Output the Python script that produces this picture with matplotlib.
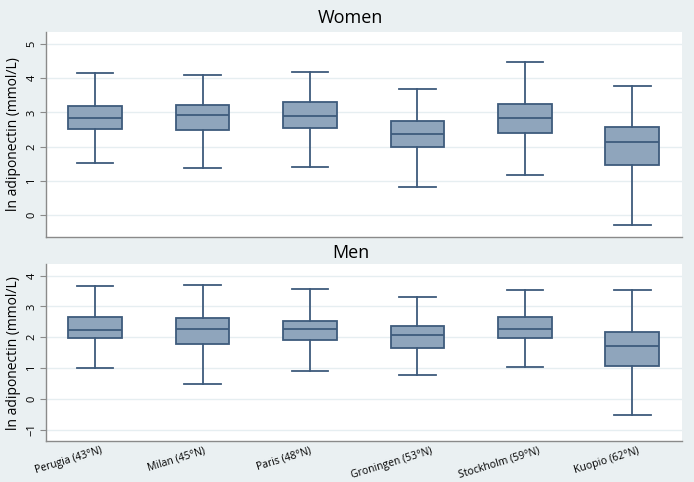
"""
Adiponectin by latitude: box plots for women and men
"""

import matplotlib
matplotlib.use('Agg')
import matplotlib.pyplot as plt
import matplotlib.transforms as mtransforms

plt.rcParams['font.family'] = ['Open Sans', 'DejaVu Sans']

cities = ['Perugia (43°N)', 'Milan (45°N)', 'Paris (48°N)',
          'Groningen (53°N)', 'Stockholm (59°N)', 'Kuopio (62°N)']

# women: lower whisker, Q1, median, Q3, upper whisker
women_low = [1.52, 1.37, 1.40, 0.82, 1.17, -0.29]
women_q1 = [2.53, 2.48, 2.55, 1.99, 2.41, 1.45]
women_med = [2.85, 2.92, 2.89, 2.37, 2.84, 2.13]
women_q3 = [3.18, 3.21, 3.30, 2.74, 3.24, 2.58]
women_high = [4.16, 4.08, 4.17, 3.69, 4.47, 3.77]

# men
men_low = [0.99, 0.49, 0.92, 0.76, 1.04, -0.52]
men_q1 = [1.98, 1.78, 1.90, 1.65, 1.98, 1.08]
men_med = [2.25, 2.26, 2.26, 2.06, 2.28, 1.73]
men_q3 = [2.67, 2.63, 2.54, 2.36, 2.67, 2.18]
men_high = [3.68, 3.70, 3.58, 3.30, 3.52, 3.55]

BG = '#eaf0f2'
BOX_FILL = '#8fa5bc'
BOX_EDGE = '#3e5b7c'
GRID = '#e6eef1'
AXIS = '#8a8a8a'


def make_stats(low, q1, med, q3, high):
    return [{'whislo': a, 'q1': b, 'med': c, 'q3': d, 'whishi': e, 'fliers': []}
            for a, b, c, d, e in zip(low, q1, med, q3, high)]


def draw_panel(ax, stats, yticks, ylim, show_labels):
    positions = list(range(1, len(stats) + 1))
    line = dict(color=BOX_EDGE, linewidth=1.3)
    ax.bxp(stats, positions=positions, widths=0.5, capwidths=0.34,
           patch_artist=True, showfliers=False,
           boxprops=dict(facecolor=BOX_FILL, edgecolor=BOX_EDGE, linewidth=1.3),
           medianprops=line, whiskerprops=line, capprops=line)
    ax.set_xlim(0.54, 6.46)
    ax.set_ylim(*ylim)
    ax.set_yticks(yticks)
    ax.set_yticklabels([str(t).replace('-', '\u2212') for t in yticks],
                       rotation=90, va='center', fontsize=8)
    ax.grid(axis='y', color=GRID, linewidth=1.0)
    ax.set_axisbelow(True)
    for side in ['top', 'right']:
        ax.spines[side].set_visible(False)
    for side in ['left', 'bottom']:
        ax.spines[side].set_color(AXIS)
        ax.spines[side].set_linewidth(1.0)
    ax.tick_params(axis='y', color=AXIS, length=4, width=0.8, pad=2)
    ax.tick_params(axis='x', length=0, pad=3)
    ax.set_ylabel('ln adiponectin (mmol/L)', fontsize=10, labelpad=4)
    if show_labels:
        ax.set_xticks(positions)
        labels = ax.set_xticklabels(cities, rotation=17, ha='center', va='top',
                                    fontsize=7.5)
        shift = mtransforms.ScaledTranslation(-26 / 100, 0, ax.figure.dpi_scale_trans)
        for lab in labels:
            lab.set_transform(lab.get_transform() + shift)
    else:
        ax.set_xticks([])


fig = plt.figure(figsize=(6.94, 4.82), dpi=100, facecolor=BG)

ax_w = fig.add_axes([0.0659, 0.5083, 0.9164, 0.4253])
draw_panel(ax_w, make_stats(women_low, women_q1, women_med, women_q3, women_high),
           [0, 1, 2, 3, 4, 5], (-0.64, 5.35), False)
fig.text(0.505, 0.963, 'Women', ha='center', va='center', fontsize=13)

ax_m = fig.add_axes([0.0659, 0.0844, 0.9164, 0.3679])
draw_panel(ax_m, make_stats(men_low, men_q1, men_med, men_q3, men_high),
           [-1, 0, 1, 2, 3, 4], (-1.38, 4.38), True)
fig.text(0.505, 0.475, 'Men', ha='center', va='center', fontsize=13)

fig.savefig('out.png', dpi=100, facecolor=BG)
